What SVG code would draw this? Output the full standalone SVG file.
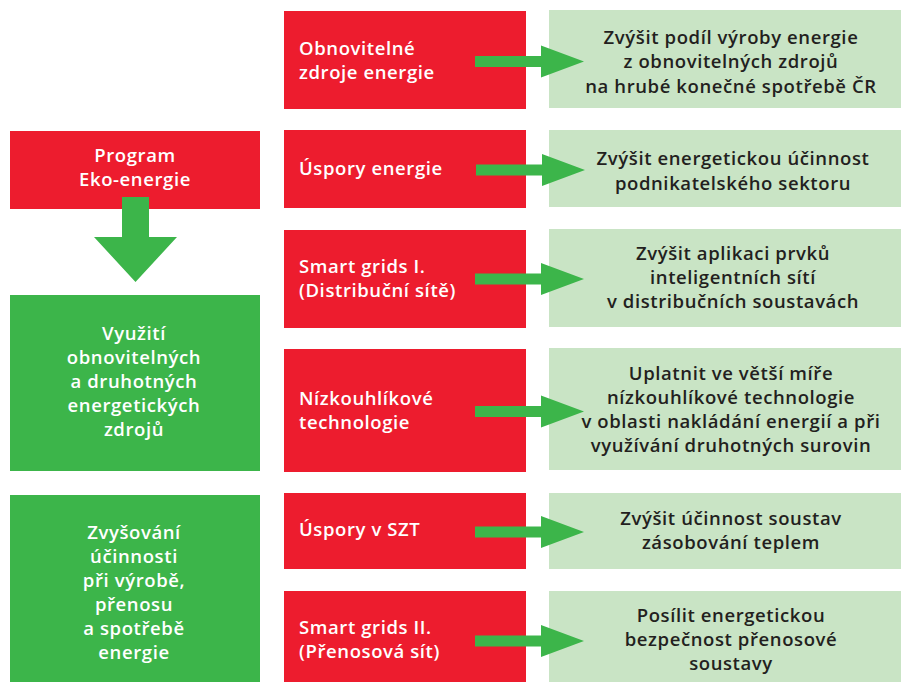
<svg xmlns="http://www.w3.org/2000/svg" width="901" height="682" viewBox="0 0 901 682">
<defs>
<style>
.red{fill:#ED1C2E}
.grn{fill:#3CB54A}
.lg{fill:#C9E4C5}
.arr{fill:#3CB54A}
text{font-family:"Open Sans","Liberation Sans",sans-serif;font-weight:600;font-size:18.5px;letter-spacing:0.6px}
.w{fill:#FFFFFF}
.wc{fill:#FFFFFF;text-anchor:middle}
.d{fill:#231F20;text-anchor:middle}
</style>
<path id="harr" d="M0,-5.5 H66 V-16 L109,0 L66,16 V5.5 H0 Z"/>
</defs>
<rect width="901" height="682" fill="#FFFFFF"/>

<g id="program">
<rect class="red" x="10" y="131" width="250" height="78"/>
<text class="wc" x="135" y="162">Program</text>
<text class="wc" x="135" y="186">Eko-energie</text>
</g>

<g id="vyuziti">
<rect class="grn" x="10" y="295" width="250" height="176"/>
<text class="wc" x="134" y="340">Využití</text>
<text class="wc" x="134" y="364">obnovitelných</text>
<text class="wc" x="134" y="388">a druhotných</text>
<text class="wc" x="134" y="412">energetických</text>
<text class="wc" x="134" y="436">zdrojů</text>
</g>

<g id="zvysovani">
<rect class="grn" x="10" y="495" width="250" height="187"/>
<text class="wc" x="134" y="539">Zvyšování</text>
<text class="wc" x="134" y="563">účinnosti</text>
<text class="wc" x="134" y="587">při výrobě,</text>
<text class="wc" x="134" y="611">přenosu</text>
<text class="wc" x="134" y="635">a spotřebě</text>
<text class="wc" x="134" y="659">energie</text>
</g>

<g id="r1">
<rect class="red" x="284" y="11" width="242" height="98"/>
<text class="w" x="299" y="55">Obnovitelné</text>
<text class="w" x="299" y="79">zdroje energie</text>
</g>
<g id="r2">
<rect class="red" x="284" y="130" width="242" height="78"/>
<text class="w" x="299" y="175">Úspory energie</text>
</g>
<g id="r3">
<rect class="red" x="284" y="230" width="242" height="98"/>
<text class="w" x="299" y="273">Smart grids I.</text>
<text class="w" x="299" y="297">(Distribuční sítě)</text>
</g>
<g id="r4">
<rect class="red" x="284" y="349" width="242" height="123"/>
<text class="w" x="299" y="405">Nízkouhlíkové</text>
<text class="w" x="299" y="429">technologie</text>
</g>
<g id="r5">
<rect class="red" x="284" y="493" width="242" height="76"/>
<text class="w" x="299" y="536">Úspory v SZT</text>
</g>
<g id="r6">
<rect class="red" x="284" y="591" width="242" height="91"/>
<text class="w" x="299" y="634">Smart grids II.</text>
<text class="w" x="299" y="658">(Přenosová sít)</text>
</g>

<g id="g1">
<rect class="lg" x="549" y="10" width="352" height="98"/>
<text class="d" x="731" y="44">Zvýšit podíl výroby energie</text>
<text class="d" x="731" y="68">z obnovitelných zdrojů</text>
<text class="d" x="731" y="93">na hrubé konečné spotřebě ČR</text>
</g>
<g id="g2">
<rect class="lg" x="549" y="130" width="352" height="77"/>
<text class="d" x="733" y="165">Zvýšit energetickou účinnost</text>
<text class="d" x="733" y="190">podnikatelského sektoru</text>
</g>
<g id="g3">
<rect class="lg" x="549" y="229" width="352" height="98"/>
<text class="d" x="733" y="260">Zvýšit aplikaci prvků</text>
<text class="d" x="733" y="284">inteligentních sítí</text>
<text class="d" x="733" y="308">v distribučních soustavách</text>
</g>
<g id="g4">
<rect class="lg" x="549" y="348" width="352" height="122"/>
<text class="d" x="731" y="380">Uplatnit ve větší míře</text>
<text class="d" x="731" y="404">nízkouhlíkové technologie</text>
<text class="d" x="731" y="428">v oblasti nakládání energií a při</text>
<text class="d" x="731" y="452">využívání druhotných surovin</text>
</g>
<g id="g5">
<rect class="lg" x="549" y="493" width="352" height="76"/>
<text class="d" x="731" y="525">Zvýšit účinnost soustav</text>
<text class="d" x="731" y="549">zásobování teplem</text>
</g>
<g id="g6">
<rect class="lg" x="549" y="591" width="352" height="91"/>
<text class="d" x="731" y="622">Posílit energetickou</text>
<text class="d" x="731" y="646">bezpečnost přenosové</text>
<text class="d" x="731" y="670">soustavy</text>
</g>

<g id="connectors">
<path class="arr" d="M122,197 H149 V237 H177 L135.5,282 L94,237 H122 Z"/>
<use href="#harr" class="arr" x="475" y="61.5"/>
<use href="#harr" class="arr" x="476" y="170"/>
<use href="#harr" class="arr" x="475" y="279"/>
<use href="#harr" class="arr" x="475" y="411.5"/>
<use href="#harr" class="arr" x="475" y="532"/>
<use href="#harr" class="arr" x="475" y="641"/>
</g>
</svg>
